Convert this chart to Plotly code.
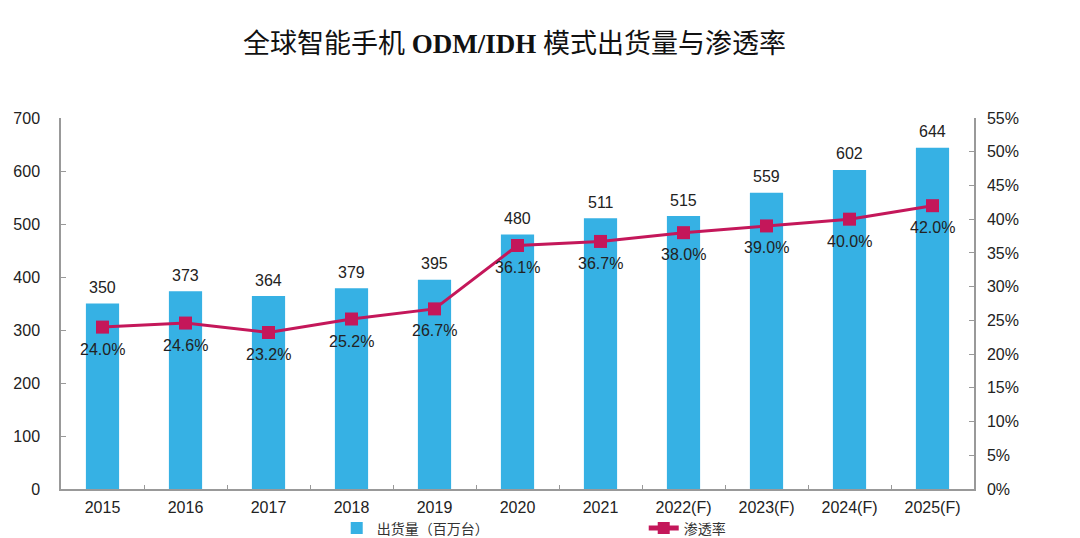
import plotly.graph_objects as go

years = ["2015", "2016", "2017", "2018", "2019", "2020", "2021",
         "2022(F)", "2023(F)", "2024(F)", "2025(F)"]
shipments = [350, 373, 364, 379, 395, 480, 511, 515, 559, 602, 644]
penetration = [24.0, 24.6, 23.2, 25.2, 26.7, 36.1, 36.7, 38.0, 39.0, 40.0, 42.0]

bar_color = "#36B1E4"
line_color = "#C4175A"
txt_color = "#222222"
num_font = "Liberation Sans, Arial, sans-serif"

fig = go.Figure()
fig.add_trace(go.Bar(
    x=years, y=shipments, name="出货量（百万台）",
    marker=dict(color=bar_color, line=dict(width=0)),
    width=0.4,
))
fig.add_trace(go.Scatter(
    x=years, y=penetration, name="渗透率", yaxis="y2",
    mode="lines+markers",
    line=dict(color=line_color, width=3),
    marker=dict(symbol="square", size=13, color=line_color),
    cliponaxis=False,
))

annotations = []
for i, v in enumerate(shipments):
    annotations.append(dict(
        x=i, y=v, xref="x", yref="y", text=str(v),
        showarrow=False, yshift=16, xanchor="center", yanchor="middle",
        font=dict(family=num_font, size=16, color=txt_color),
    ))
for i, v in enumerate(penetration):
    annotations.append(dict(
        x=i, y=v, xref="x", yref="y2", text=f"{v:.1f}%",
        showarrow=False, yshift=-22, xanchor="center", yanchor="middle",
        font=dict(family=num_font, size=16, color=txt_color),
    ))

fig.update_layout(
    width=1072, height=530,
    paper_bgcolor="white", plot_bgcolor="white",
    margin=dict(l=53, r=106, t=110, b=49, autoexpand=False),
    title=dict(
        text="全球智能手机 <b>ODM/IDH</b> 模式出货量与渗透率",
        x=0.4725, xanchor="center", y=0.932, yanchor="middle", yref="container",
        font=dict(family="Liberation Serif, Noto Sans CJK SC, serif", size=27, color="#111111"),
    ),
    annotations=annotations,
    bargap=0.6,
    xaxis=dict(
        type="category", range=[-0.5, len(years) - 0.5],
        showline=True, linecolor="#999999", linewidth=1.5,
        ticks="inside", tickson="boundaries", ticklen=4, tickcolor="#999999",
        tickfont=dict(family=num_font, size=16, color=txt_color),
        showgrid=False, zeroline=False, automargin=False, ticklabelstandoff=3,
    ),
    yaxis=dict(
        range=[0, 700], dtick=100, showline=True, linecolor="#999999", linewidth=1.5,
        ticks="inside", ticklen=5, tickcolor="#999999",
        tickfont=dict(family=num_font, size=16, color=txt_color),
        showgrid=False, zeroline=False, ticklabelstandoff=16, automargin=False,
    ),
    yaxis2=dict(
        range=[0, 55], dtick=5, overlaying="y", side="right", ticksuffix="%",
        showline=True, linecolor="#999999", linewidth=1.5,
        ticks="inside", ticklen=5, tickcolor="#999999",
        tickfont=dict(family=num_font, size=16, color=txt_color),
        showgrid=False, zeroline=False, ticklabelstandoff=8, automargin=False,
    ),
    showlegend=True,
    legend=dict(
        orientation="h", x=0.302, xanchor="left", y=0.018, yanchor="middle",
        yref="container", tracegroupgap=0, itemsizing="constant",
        font=dict(family="Noto Sans CJK SC, sans-serif", size=14, color="#333333"),
        entrywidth=262, entrywidthmode="pixels",
        bgcolor="rgba(0,0,0,0)",
    ),
)

fig.write_html("out.html")
